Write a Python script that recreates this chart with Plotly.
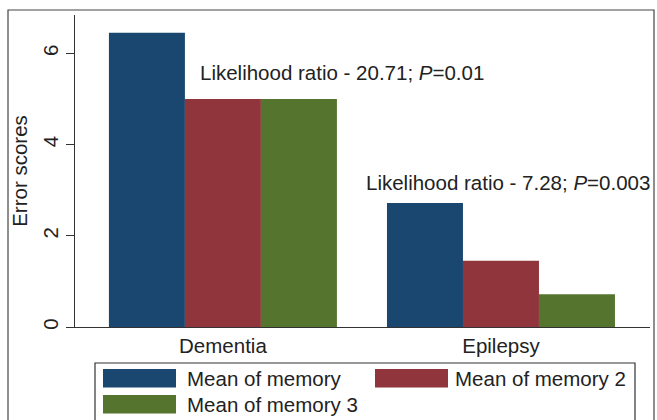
import plotly.graph_objects as go

categories = ["Dementia", "Epilepsy"]
series_names = ["Mean of memory", "Mean of memory 2", "Mean of memory 3"]
memory1 = [6.45, 2.72]
memory2 = [5.0, 1.45]
memory3 = [5.0, 0.72]
y_ticks = [0, 2, 4, 6]
annot_texts = ["Likelihood ratio - 20.71; <i>P</i>=0.01",
               "Likelihood ratio - 7.28; <i>P</i>=0.003"]
annot_x = [0.43, 1.025]
annot_y = [5.59, 3.16]

colors = ["#1a476f", "#90353b", "#55752f"]
FONT = "Arial, Liberation Sans, sans-serif"
FS = 20.5

W, H = 657, 420
L, R, T, B = 75, 7, 15, 93
PW, PH = W - L - R, H - T - B

def px_x(p):
    return (p - L) / PW

def px_y(p):
    return (H - B - p) / PH

fig = go.Figure()
for name, vals, col in zip(series_names, [memory1, memory2, memory3], colors):
    fig.add_trace(go.Bar(x=list(range(len(categories))), y=vals, name=name,
                         marker=dict(color=col, line=dict(width=0)),
                         showlegend=False))

for t, ax, ay in zip(annot_texts, annot_x, annot_y):
    fig.add_annotation(x=ax, y=ay, xref="x", yref="y", text=t, showarrow=False,
                       font=dict(size=FS, color="#222"), xanchor="center", yanchor="middle")

shapes = []
# outer frame
shapes.append(dict(type="rect", xref="paper", yref="paper",
                   x0=px_x(8), x1=px_x(654), y0=px_y(430), y1=px_y(10),
                   line=dict(color="#444", width=1.2), fillcolor="rgba(0,0,0,0)", layer="below"))
# legend box
shapes.append(dict(type="rect", xref="paper", yref="paper",
                   x0=px_x(95), x1=px_x(635), y0=px_y(430), y1=px_y(363),
                   line=dict(color="#333", width=1.2), fillcolor="white"))
legend_pos = [(103, 369, 185), (375, 369, 453), (103, 395, 185)]
for (lx, ly, tx), name, col in zip(legend_pos, series_names, colors):
    shapes.append(dict(type="rect", xref="paper", yref="paper",
                       x0=px_x(lx), x1=px_x(lx + 73), y0=px_y(ly + 18.5), y1=px_y(ly),
                       line=dict(width=0), fillcolor=col))
    fig.add_annotation(x=px_x(tx), y=px_y(ly + 9.5), xref="paper", yref="paper",
                       text=name, showarrow=False, xanchor="left", yanchor="middle",
                       font=dict(size=FS, color="#222"))

fig.update_layout(
    width=W, height=H,
    margin=dict(l=L, r=R, t=T, b=B, autoexpand=False),
    paper_bgcolor="white", plot_bgcolor="white",
    font=dict(family=FONT, size=FS, color="#222"),
    barmode="group", bargap=0.18, bargroupgap=0,
    shapes=shapes,
    showlegend=False,
)
fig.update_xaxes(range=[-0.532, 1.536], tickvals=list(range(len(categories))),
                 ticktext=categories, showline=True, linecolor="#333", linewidth=1.2,
                 ticks="", showgrid=False, zeroline=False, ticklabelstandoff=0,
                 tickfont=dict(size=FS), automargin=False)
fig.update_yaxes(range=[0, 6.84], tickvals=y_ticks, showline=True, linecolor="#333",
                 linewidth=1.2, ticks="outside", ticklen=8, tickcolor="#333",
                 tickangle=-90, showgrid=False, zeroline=False, automargin=False,
                 title=dict(text="Error scores", font=dict(size=FS), standoff=5),
                 tickfont=dict(size=FS))

fig.write_html("out.html", config={"displayModeBar": False},
               post_script="document.body.style.margin='0px';")
